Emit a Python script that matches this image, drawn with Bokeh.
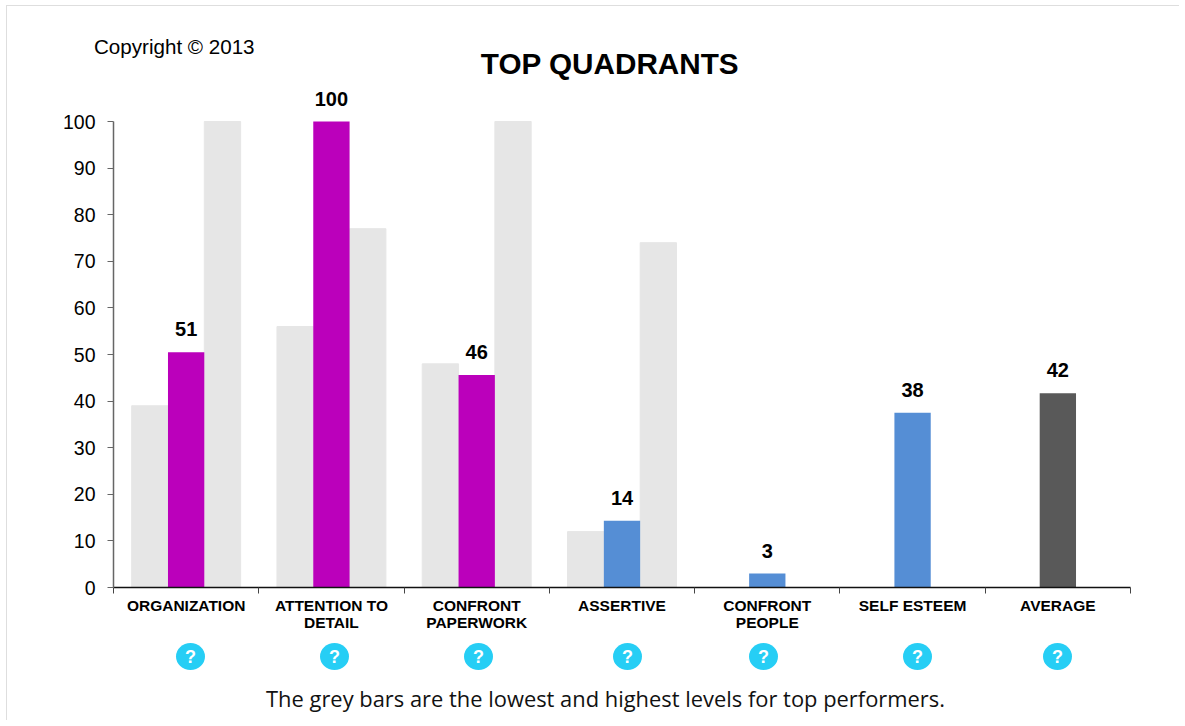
from bokeh.plotting import figure
from bokeh.core.properties import value
from bokeh.models import (ColumnDataSource, Range1d, LinearAxis, FixedTicker)
from bokeh.embed import file_html
from bokeh.resources import INLINE

categories = ["ORGANIZATION", "ATTENTION TO\nDETAIL", "CONFRONT\nPAPERWORK", "ASSERTIVE",
              "CONFRONT\nPEOPLE", "SELF ESTEEM", "AVERAGE"]
scores = [50.5, 100, 45.6, 14.3, 3, 37.5, 41.7]
score_labels = ["51", "100", "46", "14", "3", "38", "42"]
score_colors = ["#BB00BB", "#BB00BB", "#BB00BB", "#558ED5", "#558ED5", "#558ED5", "#595959"]
low_values = [39, 56, 48, 12]
high_values = [100, 77, 100, 74]
y_ticks = list(range(0, 101, 10))
title_text = "TOP QUADRANTS"
copyright_text = "Copyright \u00a9 2013"
caption_text = "The grey bars are the lowest and highest levels for top performers."
help_icon_x = [190, 334, 478, 627, 763, 917, 1057]

OX, OY = 6, 5
W, H = 1173, 715
FL, FT, FR, FB = 113, 121, 1130, 587
n = len(categories)
centers = [i + 0.5 for i in range(n)]
kx = (FR - FL) / n
ky = (FB - FT) / 100


def dx(px):
    return (px - FL) / kx


def dy(py):
    return (FB - py) / ky


p = figure(width=W, height=H, output_backend="svg", toolbar_location=None,
           x_range=Range1d(dx(OX + 1), dx(OX + 1 + W)), y_range=Range1d(dy(OY + 1 + H), dy(OY + 1)),
           x_axis_type=None, y_axis_type=None,
           min_border_left=0, min_border_right=0, min_border_top=0, min_border_bottom=0)
p.margin = (OY, 0, 0, OX)
p.styles = {"border-top": "1px solid #dedede", "border-left": "1px solid #dedede"}
p.outline_line_color = None
p.grid.visible = False
p.background_fill_color = "white"

grey = "#E6E6E6"
low_x = [c - 0.25 for c in centers[:len(low_values)]]
high_x = [c + 0.25 for c in centers[:len(high_values)]]
p.vbar(x=low_x, top=low_values, bottom=0, width=0.25, color=grey)
p.vbar(x=high_x, top=high_values, bottom=0, width=0.25, color=grey)
src = ColumnDataSource(dict(x=centers, top=scores, label=score_labels, color=score_colors))
p.vbar(x="x", top="top", bottom=0, width=0.25, fill_color="color", line_color=None, source=src)

p.text(x="x", y="top", text="label", source=src, y_offset=-23, text_align="center",
       text_baseline="middle", text_font=value("Liberation Sans"), text_font_style="bold",
       text_font_size="20px", text_color="black")

edge_ticks = list(range(n + 1))
edge_axis = LinearAxis(ticker=FixedTicker(ticks=edge_ticks), fixed_location=0, bounds=(0, n),
                       major_label_overrides={i: "" for i in edge_ticks},
                       major_label_text_font_size="1px", major_label_standoff=0,
                       major_tick_out=6, major_tick_in=0, minor_tick_line_color=None,
                       axis_line_color="#111111", major_tick_line_color="#444444",
                       axis_line_width=1.5)
p.add_layout(edge_axis, "below")
cat_axis = LinearAxis(ticker=FixedTicker(ticks=centers), fixed_location=0,
                      major_label_overrides=dict(zip(centers, categories)),
                      axis_line_color=None, major_tick_line_color=None, minor_tick_line_color=None,
                      major_tick_out=0, major_tick_in=0,
                      major_label_text_font="Liberation Sans", major_label_text_font_style="bold",
                      major_label_text_font_size="15.5px", major_label_text_color="black",
                      major_label_text_line_height=1.0, major_label_standoff=9)
p.add_layout(cat_axis, "below")

ya = LinearAxis(ticker=FixedTicker(ticks=y_ticks), fixed_location=0, bounds=(0, 100),
                major_tick_out=6, major_tick_in=0, minor_tick_line_color=None,
                axis_line_color="#666666", major_tick_line_color="#666666", axis_line_width=1.5,
                major_label_text_font="Liberation Sans", major_label_text_font_size="19.5px",
                major_label_text_color="black", major_label_standoff=12)
p.add_layout(ya, "left")


def free_text(px, py, text, **kw):
    p.text(x=[dx(px)], y=[dy(py)], text=[text], text_baseline="middle", **kw)


free_text(93.5, 46, copyright_text, text_font=value("Liberation Sans"), text_font_size="20.6px",
          text_color="black")
free_text(609.5, 63, title_text, text_font=value("Liberation Sans"), text_font_style="bold",
          text_font_size="29.7px", text_color="black", text_align="center")
free_text(605, 698, caption_text, text_font=value("Open Sans"), text_font_size="21.9px",
          text_color="#111111", text_align="center")
icon_xs = [dx(ix) for ix in help_icon_x]
icon_y = dy(656)
p.ellipse(x=icon_xs, y=[icon_y] * n, width=29, height=27, width_units="screen", height_units="screen",
          fill_color="#26CEF5", line_color=None)
p.text(x=icon_xs, y=[icon_y] * n, text=["?"] * n, text_align="center", text_baseline="middle",
       text_font=value("Liberation Sans"), text_font_style="bold", text_font_size="18px", text_color="white")

open("out.html", "w").write(file_html(p, INLINE))
